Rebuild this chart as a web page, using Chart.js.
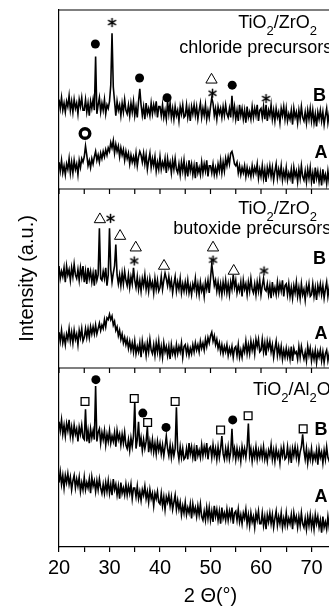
<!DOCTYPE html>
<html>
<head>
<meta charset="utf-8">
<script src="https://cdn.jsdelivr.net/npm/chart.js@4"></script>
<style>
  html, body { margin: 0; padding: 0; background: #fff; overflow: hidden; }
  #wrap { position: absolute; left: 0; top: 0; width: 382px; height: 608px; }
</style>
</head>
<body>
<div id="wrap"><canvas id="xrd"></canvas></div>
<script>
// scan grid: 2theta from 20 deg in 0.25 deg steps
const scan_start = 20;
const scan_step = 0.25;

// TiO2/ZrO2, chloride precursors
const chloride_B = [
  50,45,51,44,48,43,49,46,52,44,49,43,50,45,48,42,50,46,51,44,
  44,50,43,48,41,49,45,50,44,74,42,47,51,43,48,44,50,42,47,45,
  49,58,87,57,49,41,49,44,47,41,48,43,50,44,42,47,41,48,43,49,
  41,46,40,49,56,47,41,46,39,48,42,45,41,48,42,47,43,49,40,46,
  46,41,47,40,44,39,49,42,48,40,45,39,46,41,44,38,46,42,47,40,
  41,47,40,45,38,46,42,47,41,46,39,44,48,40,45,41,47,39,44,40,
  46,51,48,41,45,39,46,42,45,40,46,41,47,42,40,45,40,52,41,46,
  39,44,38,47,41,45,39,44,37,46,40,43,39,46,40,45,41,47,38,44,
  45,40,46,39,47,38,44,41,47,39,44,38,45,40,43,37,45,41,46,39,
  45,38,42,39,44,36,45,40,43,37,44,39,46,40,38,43,37,44,39,45,
  38,44,37,42,35,43,39,44,38,43,36,41,45,37,42,38,44
];
const chloride_A = [
  15,10,16,9,13,8,14,11,17,9,15,9,16,11,14,8,16,12,17,15,
  18,24,19,13,16,12,17,14,18,21,16,19,15,20,17,21,18,22,19,23,
  21,26,23,27,20,25,21,24,18,23,19,22,16,21,17,20,14,19,15,18,
  14,20,13,18,21,19,15,20,14,19,11,16,20,12,17,13,18,10,15,11,
  18,11,15,12,17,9,17,12,15,9,16,11,17,11,9,14,8,15,10,16,
  8,13,7,16,10,14,8,13,6,15,9,12,8,15,9,14,10,16,7,13,
  13,9,14,8,12,8,14,10,16,9,15,10,17,13,18,14,20,21,18,14,
  13,15,9,13,8,12,9,13,7,12,8,11,7,13,8,12,9,14,6,11,
  7,13,6,11,4,12,8,13,7,12,5,10,14,6,11,7,13,5,10,6,
  12,5,9,6,11,3,12,7,10,4,11,6,13,7,5,10,4,11,6,12,
  4,9,3,12,6,10,4,9,2,11,5,8,3,10,4,9,5
];

// TiO2/ZrO2, butoxide precursors
const butoxide_B = [
  57,50,54,51,56,48,57,52,55,49,56,51,58,52,50,55,49,56,51,57,
  48,54,47,56,50,54,48,53,46,55,49,52,78,50,49,54,50,56,46,52,
  78,55,48,53,57,69,52,47,52,46,53,47,54,49,46,52,45,51,47,56,
  49,45,51,44,49,43,50,46,52,44,49,43,50,45,48,42,50,44,49,43,
  45,51,44,49,53,50,46,51,45,49,42,47,51,43,48,44,50,42,47,43,
  48,43,49,42,46,41,47,44,50,42,47,41,48,43,46,40,48,44,49,42,
  50,58,52,46,49,43,48,42,47,41,48,43,49,42,47,41,48,44,52,45,
  49,42,46,43,48,40,49,44,47,41,48,43,50,44,42,47,41,48,43,49,
  41,46,50,44,43,47,41,46,39,48,42,45,41,48,42,47,43,49,40,46,
  47,41,47,40,45,39,46,42,48,40,45,39,47,41,44,38,46,42,47,40,
  41,47,40,45,38,46,42,47,41,46,39,44,48,40,45,41,47
];
const butoxide_A = [
  20,15,21,14,18,13,19,16,22,15,20,14,21,16,19,13,21,17,22,15,
  17,22,17,22,17,23,19,23,19,24,19,22,25,21,24,22,27,23,28,27,
  30,27,29,24,26,21,23,18,21,16,19,14,17,13,16,11,15,10,14,9,
  15,8,12,9,14,6,15,10,13,7,14,9,16,10,8,13,7,14,9,15,
  7,12,6,14,9,12,7,12,5,13,8,11,7,13,8,12,9,14,6,12,
  13,8,12,7,11,8,13,9,14,10,13,9,15,11,14,10,16,12,17,14,
  18,20,15,18,13,16,11,14,9,13,8,12,9,13,7,11,8,12,6,11,
  12,7,13,6,10,6,12,9,15,8,13,8,15,10,14,8,16,12,16,9,
  10,16,9,14,7,15,11,15,9,13,6,11,15,7,12,7,12,5,10,6,
  11,6,10,5,12,4,11,8,9,5,12,6,12,8,5,9,4,12,7,11,
  4,9,5,10,3,9,6,10,4,9,3,8,10,4,8,5,9
];

// TiO2/Al2O3
const alumina_B = [
  70,65,71,63,68,62,69,65,71,62,67,61,68,63,66,59,67,63,68,61,
  60,77,59,65,58,66,61,65,60,90,59,64,66,58,64,60,65,57,63,59,
  65,58,62,59,64,56,65,60,63,57,63,58,64,57,55,60,54,61,56,62,
  81,55,60,70,56,61,54,60,55,59,67,53,59,54,60,53,58,52,59,54,
  58,52,57,51,56,62,55,51,57,50,56,51,55,78,54,49,56,50,55,49,
  50,55,49,58,52,56,50,55,48,57,51,54,50,57,51,56,52,58,49,55,
  56,50,57,51,55,49,56,50,55,62,52,49,55,50,56,49,53,66,51,55,
  49,55,50,54,48,56,51,55,50,56,69,51,55,48,54,50,56,49,54,50,
  55,50,56,49,53,48,54,51,57,49,54,48,55,50,53,47,55,51,56,49,
  50,56,49,54,47,55,51,56,50,55,48,53,56,63,54,49,55,47,53,49,
  55,48,52,49,54,46,55,50,53,47,54,49,56,50,48,53,47
];
const alumina_A = [
  36,42,35,40,33,40,36,41,35,39,32,37,40,33,38,34,39,31,36,32,
  39,32,36,33,38,30,39,34,37,31,37,32,38,33,30,35,30,36,31,37,
  30,35,29,38,32,35,29,34,27,36,30,33,29,35,29,34,30,35,27,33,
  33,28,34,27,31,26,32,29,34,27,31,25,32,27,30,23,30,27,31,25,
  24,30,23,28,21,28,25,29,23,28,21,25,29,21,26,21,25,18,23,19,
  25,18,22,19,24,16,24,19,22,17,23,18,24,17,15,20,15,22,16,22,
  15,20,14,23,17,21,15,20,13,22,16,19,15,21,15,20,16,22,13,19,
  20,15,21,14,18,13,19,16,21,13,18,12,19,14,17,11,19,15,20,13,
  13,19,12,17,10,18,14,19,13,18,11,16,20,12,17,13,19,11,16,12,
  19,12,16,13,18,10,19,14,17,11,17,12,19,13,11,16,10,17,12,18,
  11,16,10,18,13,17,11,15,8,17,11,14,10,17,11,16,12
];

// peak markers [2theta, intensity]
const chloride_dots = [[27.2, 81], [35.95, 62], [41.4, 51], [54.3, 58]];
const chloride_stars = [[30.5, 93], [50.4, 53.5], [61.0, 50.5]];
const chloride_triangles = [[50.2, 61]];
const chloride_rings = [[25.15, 31]];
const butoxide_triangles = [[28.1, 83], [32.1, 73.7], [35.2, 67.2], [40.8, 57], [50.5, 67.2], [54.6, 54.2]];
const butoxide_stars = [[30.2, 83.6], [34.9, 59.8], [50.5, 60.3], [60.6, 54.2]];
const alumina_squares = [[25.15, 81.3], [34.9, 83], [37.55, 69.6], [43.0, 81.3], [52.0, 65.4], [57.45, 73.3], [68.35, 66]];
const alumina_dots = [[27.3, 93.5], [36.6, 74.8], [41.2, 66.8], [54.4, 71]];

Chart.defaults.font.family = '"Liberation Sans", Arial, sans-serif';
Chart.defaults.color = '#000';

// six-armed asterisk used as a point style
function asteriskImage() {
  var c = document.createElement('canvas');
  c.width = 11;
  c.height = 11;
  var g = c.getContext('2d');
  g.strokeStyle = '#000';
  g.lineWidth = 1.5;
  [90, 30, 150].forEach(function (deg) {
    var a = deg * Math.PI / 180;
    g.beginPath();
    g.moveTo(5.5 - Math.cos(a) * 4.6, 5.5 - Math.sin(a) * 4.6);
    g.lineTo(5.5 + Math.cos(a) * 4.6, 5.5 + Math.sin(a) * 4.6);
    g.stroke();
  });
  return c;
}

const dot_style = { pointStyle: 'circle', pointRadius: 4.5, pointBackgroundColor: '#000', pointBorderColor: '#000', pointBorderWidth: 0 };
const star_style = { pointStyle: asteriskImage(), pointRadius: 4.5 };
const tri_style = { pointStyle: 'triangle', pointRadius: 6.5, pointBackgroundColor: '#fff', pointBorderColor: '#000', pointBorderWidth: 1 };
const square_style = { pointStyle: 'rect', pointRadius: 5.5, pointBackgroundColor: '#fff', pointBorderColor: '#000', pointBorderWidth: 1.3 };
const ring_style = { pointStyle: 'circle', pointRadius: 4.8, pointBackgroundColor: '#fff', pointBorderColor: '#000', pointBorderWidth: 3.4 };

function toPoints(values) {
  return values.map(function (v, i) { return { x: scan_start + i * scan_step, y: v }; });
}

function trace(values, axis) {
  return { data: toPoints(values), yAxisID: axis, borderColor: '#000', borderWidth: 1.6, pointRadius: 0, tension: 0, order: 1 };
}

function marks(pairs, axis, style) {
  var points = pairs.map(function (p) { return { x: p[0], y: p[1] }; });
  return Object.assign({ data: points, yAxisID: axis, showLine: false, order: 0 }, style);
}

function panelAxis(with_title) {
  return {
    type: 'linear', position: 'left', stack: 'panels', stackWeight: 1, min: 0, max: 100,
    border: { color: '#000', width: 1.2 },
    grid: { display: false },
    ticks: { display: false },
    title: { display: with_title, text: 'Intensity (a.u.)', color: '#000', font: { size: 20 }, padding: { top: 15, bottom: 12 } }
  };
}

const panel_notes = [
  { axis: 'y_cl', parts: [['TiO', 0], ['2', 1], ['/ZrO', 0], ['2', 1]], x: 55.5, y: 90, line2: 'chloride precursors', x2: 43.8, y2: 76 },
  { axis: 'y_but', parts: [['TiO', 0], ['2', 1], ['/ZrO', 0], ['2', 1]], x: 55.5, y: 86, line2: 'butoxide precursors', x2: 42.6, y2: 75 },
  { axis: 'y_al', parts: [['TiO', 0], ['2', 1], ['/Al', 0], ['2', 1], ['O', 0], ['3', 1]], x: 58.4, y: 85 }
];
const curve_letters = [
  ['B', 'y_cl', 71.6, 52], ['A', 'y_cl', 71.9, 20],
  ['B', 'y_but', 71.6, 61], ['A', 'y_but', 71.9, 19],
  ['B', 'y_al', 71.9, 65.6], ['A', 'y_al', 71.9, 27.8]
];

const frame_plugin = {
  id: 'frame',
  afterDraw: function (chart) {
    const ctx = chart.ctx;
    const area = chart.chartArea;
    const x = chart.scales.x;
    ctx.save();
    ctx.strokeStyle = '#000';
    ctx.lineWidth = 1.2;
    ['y_cl', 'y_but', 'y_al'].forEach(function (id) {
      const s = chart.scales[id];
      ctx.beginPath();
      ctx.moveTo(area.left, s.top);
      ctx.lineTo(area.right, s.top);
      ctx.stroke();
      // tick marks under the upper panels
      if (s.bottom < area.bottom - 1) {
        x.ticks.forEach(function (t) {
          const px = x.getPixelForValue(t.value);
          ctx.beginPath();
          ctx.moveTo(px, s.bottom);
          ctx.lineTo(px, s.bottom + 5);
          ctx.stroke();
        });
      }
    });

    ctx.fillStyle = '#000';
    ctx.textBaseline = 'alphabetic';
    ctx.textAlign = 'left';
    panel_notes.forEach(function (n) {
      const s = chart.scales[n.axis];
      var px = x.getPixelForValue(n.x);
      const py = s.getPixelForValue(n.y);
      n.parts.forEach(function (p) {
        ctx.font = p[1] ? '13px "Liberation Sans"' : '18px "Liberation Sans"';
        ctx.fillText(p[0], px, py + (p[1] ? 7 : 0));
        px += ctx.measureText(p[0]).width;
      });
      if (n.line2) {
        ctx.font = '18px "Liberation Sans"';
        ctx.fillText(n.line2, x.getPixelForValue(n.x2), s.getPixelForValue(n.y2));
      }
    });

    ctx.font = 'bold 18px "Liberation Sans"';
    ctx.textAlign = 'center';
    ctx.textBaseline = 'middle';
    curve_letters.forEach(function (c) {
      ctx.fillText(c[0], x.getPixelForValue(c[2]), chart.scales[c[1]].getPixelForValue(c[3]));
    });
    ctx.restore();
  }
};

new Chart(document.getElementById('xrd'), {
  type: 'line',
  data: {
    datasets: [
      trace(chloride_B, 'y_cl'),
      trace(chloride_A, 'y_cl'),
      trace(butoxide_B, 'y_but'),
      trace(butoxide_A, 'y_but'),
      trace(alumina_B, 'y_al'),
      trace(alumina_A, 'y_al'),
      marks(chloride_dots, 'y_cl', dot_style),
      marks(chloride_stars, 'y_cl', star_style),
      marks(chloride_triangles, 'y_cl', tri_style),
      marks(chloride_rings, 'y_cl', ring_style),
      marks(butoxide_triangles, 'y_but', tri_style),
      marks(butoxide_stars, 'y_but', star_style),
      marks(alumina_squares, 'y_al', square_style),
      marks(alumina_dots, 'y_al', dot_style)
    ]
  },
  options: {
    responsive: true,
    maintainAspectRatio: false,
    animation: false,
    events: [],
    layout: { padding: { top: 10, right: 20, left: 0, bottom: 0 } },
    plugins: { legend: { display: false }, tooltip: { enabled: false } },
    scales: {
      x: {
        type: 'linear', position: 'bottom', min: 20, max: 80,
        border: { color: '#000', width: 1.2 },
        grid: { display: true, drawOnChartArea: false, drawTicks: true, tickLength: 5, color: '#000', lineWidth: 1.2 },
        ticks: {
          stepSize: 5, padding: 4, color: '#000', font: { size: 20 }, maxRotation: 0, autoSkip: false,
          callback: function (v) { return v % 10 === 0 ? v : ''; }
        },
        title: { display: true, text: '2 Θ(°)', color: '#000', font: { size: 20 }, padding: { top: 0, bottom: 0 } }
      },
      y_al: panelAxis(false),
      y_but: panelAxis(true),
      y_cl: panelAxis(false)
    }
  },
  plugins: [frame_plugin]
});
</script>
</body>
</html>
